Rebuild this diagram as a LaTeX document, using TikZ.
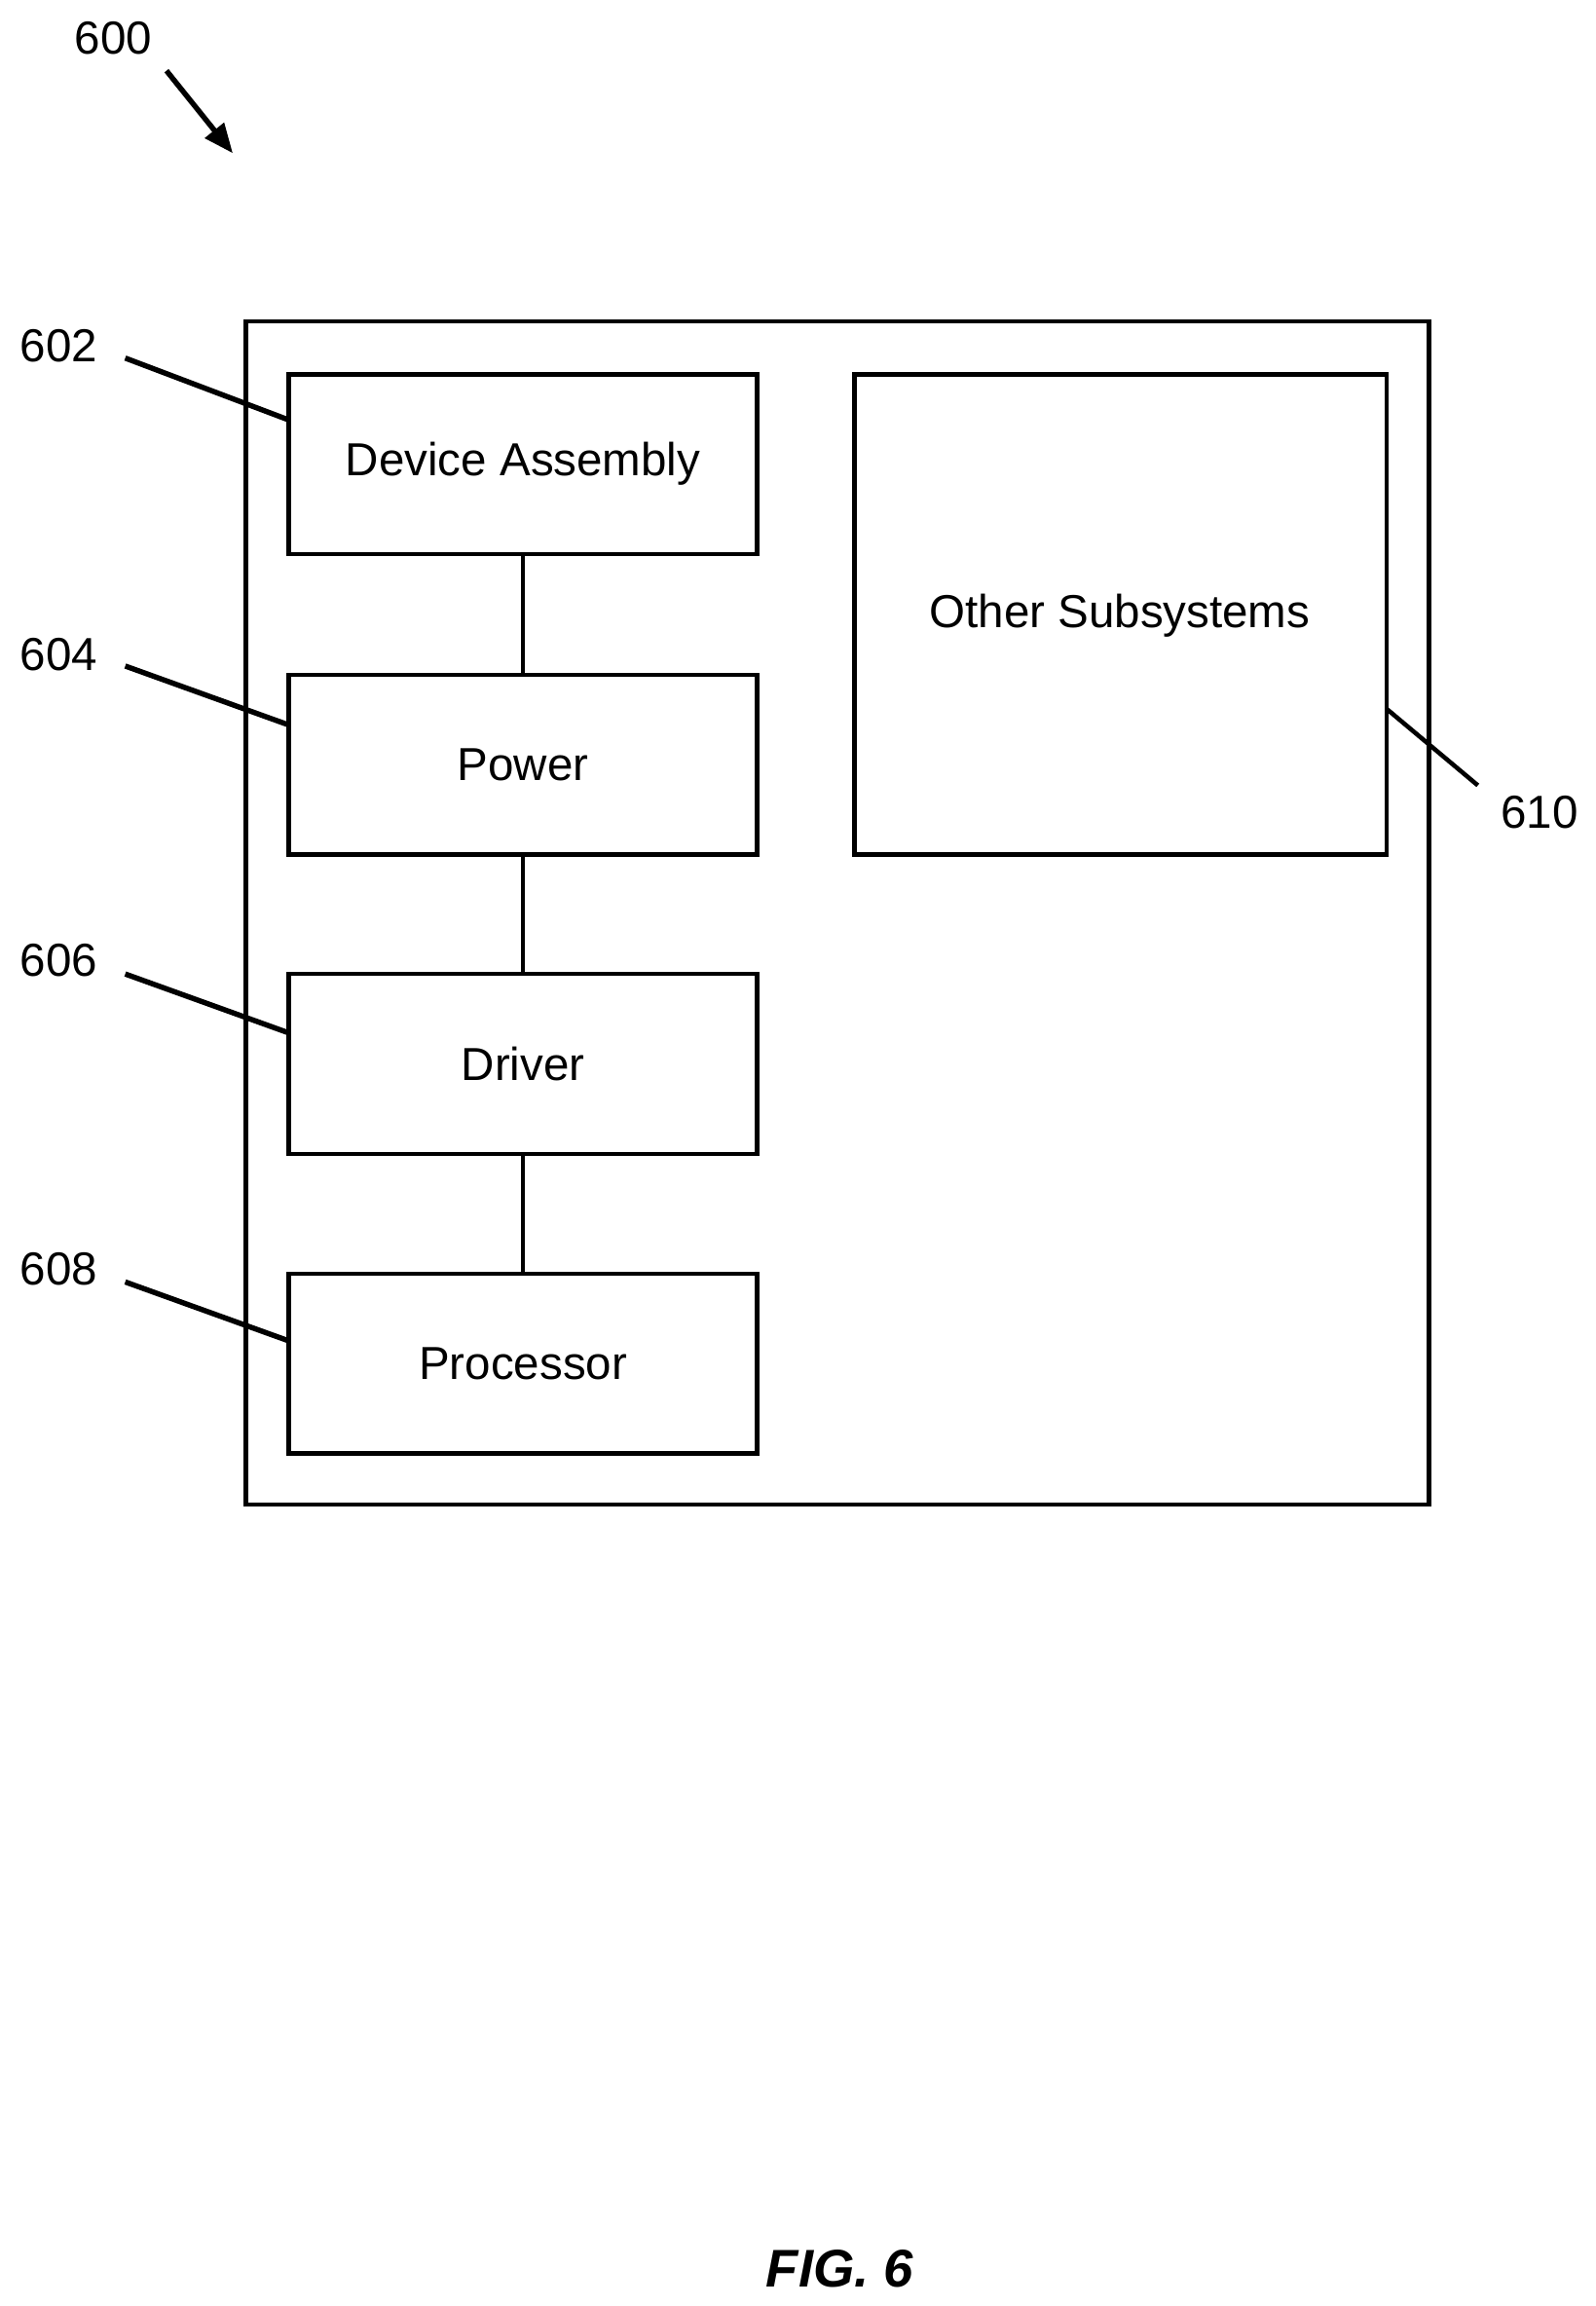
\documentclass[tikz,border=0pt]{standalone}
\usepackage{fontspec}
\setmainfont{Liberation Sans}
\usetikzlibrary{arrows.meta}
\begin{document}
\begin{tikzpicture}[x=0.5pt,y=-0.5pt,
  box/.style={draw,line width=1.5pt,inner sep=0pt},
  lbl/.style={font=\fontsize{15.7}{18}\selectfont},
  lead/.style={line width=1.8pt}]
\useasboundingbox (0,0) rectangle (1083,1565);
\draw[line width=1.5pt] (167,218) rectangle (970,1021);
\node[box,minimum width=159pt,minimum height=61pt,lbl] (da) at (355,315) {Device Assembly};
\node[box,minimum width=159pt,minimum height=61pt,lbl] (pw) at (355,519) {Power};
\node[box,minimum width=159pt,minimum height=61pt,lbl] (dr) at (355,722) {Driver};
\node[box,minimum width=159pt,minimum height=61pt,lbl] (pr) at (355,925.5) {Processor};
\node[box,minimum width=180.5pt,minimum height=163pt] (os) at (760.5,417) {};
\node[lbl] at (760,418) {Other Subsystems};
\draw[line width=1.5pt] (da) -- (pw);
\draw[line width=1.5pt] (pw) -- (dr);
\draw[line width=1.5pt] (dr) -- (pr);
\node[lbl] (l602) at (40,235) {602};
\node[lbl] (l604) at (40,444) {604};
\node[lbl] (l606) at (40,652) {606};
\node[lbl] (l608) at (40,861) {608};
\node[lbl] (l610) at (1045,551) {610};
\node[lbl] (l600) at (77,26) {600};
\coordinate (a1) at (85,243); \coordinate (b1) at (196,285);
\coordinate (a2) at (85,452); \coordinate (b2) at (196,492);
\coordinate (a3) at (85,661); \coordinate (b3) at (196,701);
\coordinate (a4) at (85,870); \coordinate (b4) at (196,910);
\coordinate (a5) at (941,481); \coordinate (b5) at (1003,533);
\draw[lead] (a1)--(b1); \draw[lead] (a2)--(b2); \draw[lead] (a3)--(b3);
\draw[lead] (a4)--(b4); \draw[line width=1.5pt] (a5)--(b5);
\coordinate (s0) at (113,48); \coordinate (e0) at (158,104);
\draw[line width=1.8pt,-{Triangle[length=10pt,width=8pt]}] (s0)--(e0);
\node[font=\fontsize{18}{22}\selectfont\bfseries\itshape] (fig) at (570,1540) {FIG. 6};
\end{tikzpicture}
\end{document}
